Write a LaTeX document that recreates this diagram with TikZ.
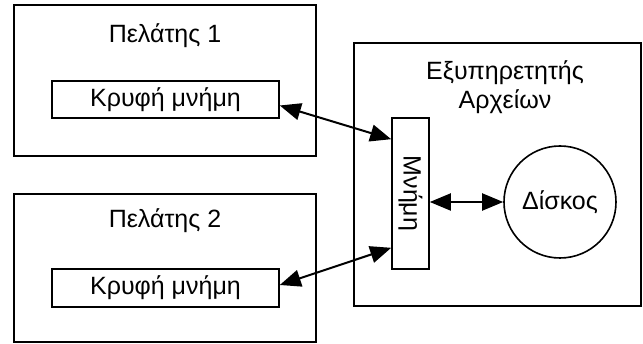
\documentclass[tikz,border=0pt]{standalone}
\usepackage{fontspec}
\setmainfont{Liberation Sans}
\usetikzlibrary{arrows.meta}
\begin{document}
\begin{tikzpicture}[x=1pt,y=-1pt,
  box/.style={draw,line width=1.6pt,rectangle,inner sep=0pt},
  lbl/.style={font=\fontsize{25}{29}\selectfont,inner sep=0pt,align=center},
  conn/.style={line width=2pt,{Triangle[length=21pt,width=17pt]}-{Triangle[length=21pt,width=17pt]}}]
\useasboundingbox (0,0) rectangle (643,344);
% client 1
\node[box,minimum width=302pt,minimum height=151pt] (c1) at (165,80.5) {};
\node[lbl] (c1t) at (165,36) {Πελάτης 1};
\node[box,lbl,minimum width=227pt,minimum height=37pt] (k1) at (165.5,99.5) {Κρυφή μνήμη};
% client 2
\node[box,minimum width=302pt,minimum height=148pt] (c2) at (165,268) {};
\node[lbl] (c2t) at (165,221) {Πελάτης 2};
\node[box,lbl,minimum width=227pt,minimum height=38pt] (k2) at (165.5,288) {Κρυφή μνήμη};
% server
\node[box,minimum width=287pt,minimum height=263pt] (s) at (497.5,174.5) {};
\node[lbl] (st) at (505,87) {Εξυπηρετητής\\Αρχείων};
\node[box,minimum width=37pt,minimum height=151pt] (m) at (410.5,193.5) {};
\node[lbl,rotate=-90] (mt) at (m.center) {Μνήμη};
\node[draw,line width=1.6pt,circle,minimum size=112pt,inner sep=0pt,lbl] (d) at (560,202) {Δίσκος};
% connectors
\draw[conn] ([yshift=-6pt]k1.east) -- ([yshift=-22pt]m.north west);
\draw[conn] ([yshift=3pt]k2.east) -- ([yshift=22pt]m.south west);
\draw[conn] (m.east |- d.west) -- (d.west);
\end{tikzpicture}
\end{document}
